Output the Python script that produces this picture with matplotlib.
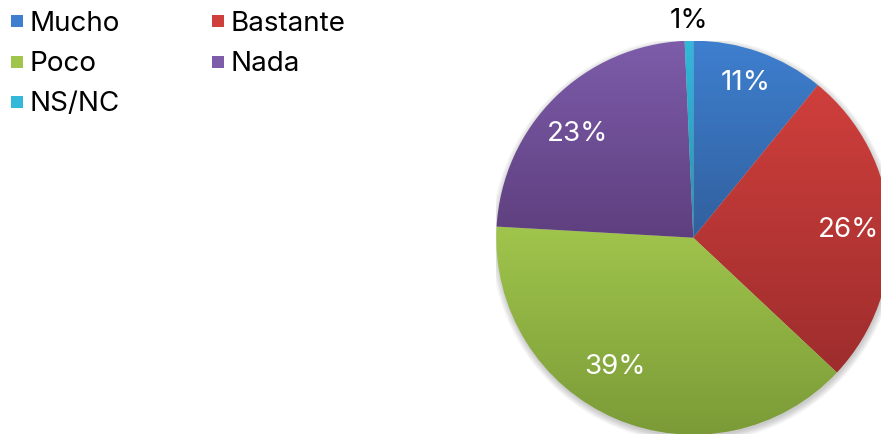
import numpy as np
import matplotlib
matplotlib.use("Agg")
import matplotlib.pyplot as plt
from matplotlib.colors import LinearSegmentedColormap
from matplotlib.lines import Line2D

# Datos
categorias = ["Mucho", "Bastante", "Poco", "Nada", "NS/NC"]
valores = [10.9, 26.1, 38.9, 23.4, 0.7]
etiquetas = ["11%", "26%", "39%", "23%", "1%"]

# colores (arriba, abajo) de cada degradado
col_arriba = ["#3e7fcf", "#cf3f3c", "#a0c54c", "#7d5caa", "#33b8da"]
col_abajo = ["#31609e", "#9e2d2d", "#7a9a37", "#5e3f7e", "#2593b0"]

plt.rcParams['font.family'] = ['Inter', 'DejaVu Sans']

W, H = 881, 434
fig = plt.figure(figsize=(W / 100, H / 100), dpi=100)
fig.patch.set_facecolor("white")

# posición de la tarta en píxeles
cx, cy, R = 693.3, 237.7, 197
ax = fig.add_axes([(cx - R) / W, (H - cy - R) / H, 2 * R / W, 2 * R / H])
ax.set_xlim(-1, 1)
ax.set_ylim(-1, 1)
ax.set_aspect('equal')
ax.axis('off')

# sombra suave
for k in range(6):
    c = plt.Circle((0.004, -0.012), 1.0 + 0.006 * k, color="black",
                   alpha=0.035, lw=0, zorder=0)
    ax.add_patch(c)

wedges, _ = ax.pie(valores, startangle=90, counterclock=False, radius=1,
                   wedgeprops=dict(linewidth=0))

for w, ca, cb in zip(wedges, col_arriba, col_abajo):
    w.set_facecolor("none")
    verts = w.get_path().vertices
    y0, y1 = verts[:, 1].min(), verts[:, 1].max()
    cmap = LinearSegmentedColormap.from_list("g", [cb, ca])
    grad = np.linspace(0, 1, 256).reshape(-1, 1)
    im = ax.imshow(grad, cmap=cmap, extent=[-1, 1, y0, y1], origin='lower',
                   aspect='auto', zorder=1, interpolation='bilinear')
    im.set_clip_path(w)
ax.set_xlim(-1, 1)
ax.set_ylim(-1, 1)

# etiquetas (distancia al centro y desvío de ángulo)
dist = [0.83, 0.79, 0.77, 0.79, 1.1]
desvio = [1.0, -1.0, -8.0, 3.5, 0.0]
for w, t, d, da in zip(wedges, etiquetas, dist, desvio):
    ang = np.deg2rad((w.theta1 + w.theta2) / 2 + da)
    color = "black" if d > 1 else "white"
    ax.text(d * np.cos(ang), d * np.sin(ang), t, ha='center', va='center',
            fontsize=20, color=color, zorder=3, clip_on=False)

# leyenda
orden = [0, 2, 4, 1, 3]
handles = [Line2D([], [], marker='s', linestyle='', markersize=8.2,
                  color=col_arriba[i], markeredgewidth=0) for i in orden]
fig.legend(handles, [categorias[i] for i in orden], ncol=2,
           loc='upper left', bbox_to_anchor=(-0.001, 1.0), frameon=False,
           fontsize=20, handlelength=0.5, handletextpad=0.18,
           columnspacing=3.3, labelspacing=0.51, borderaxespad=0)

fig.savefig("out.png", dpi=100, facecolor="white")
